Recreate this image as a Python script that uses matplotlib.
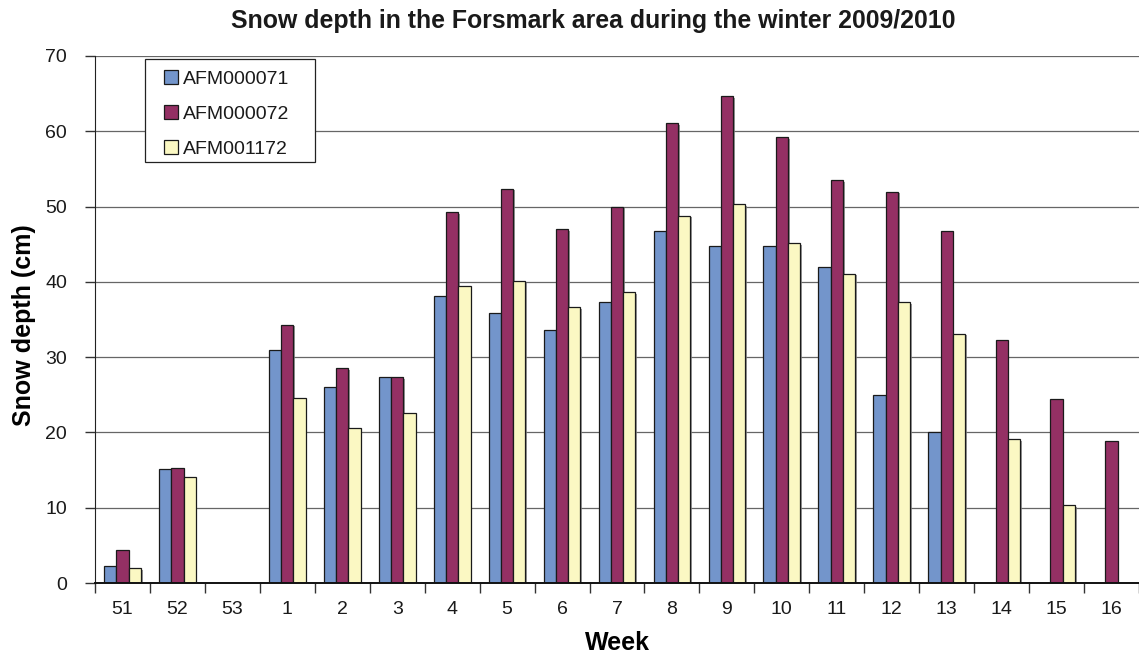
import matplotlib
matplotlib.use("Agg")
import matplotlib.pyplot as plt
import matplotlib.patheffects as pe
from matplotlib.patches import Rectangle
import numpy as np

plt.rcParams['font.family'] = ['Liberation Sans', 'DejaVu Sans']
plt.rcParams['text.color'] = '#1a1a1a'
plt.rcParams['xtick.labelcolor'] = '#1a1a1a'
plt.rcParams['ytick.labelcolor'] = '#1a1a1a'

weeks = ["51", "52", "53", "1", "2", "3", "4", "5", "6", "7", "8", "9",
         "10", "11", "12", "13", "14", "15", "16"]
afm000071 = [2.2, 15.1, 0, 31.0, 26.1, 27.3, 38.1, 35.8, 33.6, 37.3, 46.8, 44.7,
             44.7, 42.0, 25.0, 20.0, 0, 0, 0]
afm000072 = [4.4, 15.3, 0, 34.3, 28.5, 27.3, 49.3, 52.4, 47.0, 50.0, 61.1, 64.7,
             59.2, 53.5, 52.0, 46.8, 32.3, 24.4, 18.8]
afm001172 = [2.0, 14.1, 0, 24.6, 20.6, 22.6, 39.4, 40.1, 36.6, 38.6, 48.8, 50.3,
             45.1, 41.1, 37.3, 33.1, 19.1, 10.3, 0]
series_names = ["AFM000071", "AFM000072", "AFM001172"]
colors = ["#7395CB", "#943064", "#FBF8C3"]

W, H = 1139, 656
X0, Y0, Y1 = 95, 583, 56          # plot area in pixels
AW, AH = W - X0, Y0 - Y1
fig = plt.figure(figsize=(W / 100, H / 100), dpi=100)
ax = fig.add_axes([X0 / W, (H - Y0) / H, AW / W, AH / H])


def to_axes(px, py):
    return (px - X0) / AW, (Y0 - py) / AH


x = np.arange(len(weeks))
bw = 0.223
shadow = [pe.SimplePatchShadow(offset=(1.2, -1.2), shadow_rgbFace='#808080', alpha=0.8),
          pe.Normal()]
for i, (vals, name, col) in enumerate(zip([afm000071, afm000072, afm001172],
                                          series_names, colors)):
    bars = ax.bar(x + (i - 1) * bw, vals, width=bw, color=col, edgecolor='#1a1a1a',
                  linewidth=0.9, label=name, zorder=3)
    for b in bars:
        b.set_path_effects(shadow)

ax.set_ylim(0, 70)
ax.set_yticks(np.arange(0, 71, 10))
ax.set_xlim(-0.5, AW / 55.2 - 0.5)
ax.set_xticks(x)
ax.set_xticklabels(weeks)
ax.set_xticks(np.arange(-0.5, len(weeks) + 0.5, 1), minor=True)
ax.tick_params(axis='x', which='major', length=0, pad=13, labelsize=14)
ax.tick_params(axis='x', which='minor', length=7, width=1, direction='out', color='#333333')
ax.tick_params(axis='y', length=7, width=1, direction='out', labelsize=14, pad=13,
               color='#333333')

ax.yaxis.grid(True, color='#666666', linewidth=0.9, zorder=0)
ax.set_axisbelow(True)
for s in ['top', 'right']:
    ax.spines[s].set_visible(False)
ax.spines['left'].set_color('#222222')
ax.spines['bottom'].set_color('#111111')
ax.spines['bottom'].set_linewidth(1.4)
ax.spines['bottom'].set_zorder(4)

ax.set_xlabel("Week", fontsize=18, fontweight='bold')
ax.xaxis.set_label_coords(*to_axes(617, 643))
ax.xaxis.label.set_va('center')
ax.set_ylabel("Snow depth (cm)", fontsize=18, fontweight='bold')
ax.yaxis.set_label_coords(*to_axes(24, 325))
ax.yaxis.label.set_va('center')
fig.text(593 / W, 1 - 21 / H, "Snow depth in the Forsmark area during the winter 2009/2010",
         ha='center', va='center', fontsize=17.9, fontweight='bold')

# legend frame drawn as its own patch, entries placed inside it
lx0, ly0 = to_axes(145, 162)
lx1, ly1 = to_axes(315, 59)
ax.add_patch(Rectangle((lx0, ly0), lx1 - lx0, ly1 - ly0, transform=ax.transAxes,
                       facecolor='white', edgecolor='#222222', linewidth=0.9, zorder=5))
leg = ax.legend(loc='upper left', bbox_to_anchor=to_axes(164, 70),
                fontsize=14, frameon=False,
                handlelength=0.7, handleheight=0.7, handletextpad=0.3,
                labelspacing=0.9, borderpad=0, borderaxespad=0)
leg.set_zorder(6)
for h in leg.legend_handles:
    h.set_path_effects([])

fig.savefig("out.png", dpi=100, facecolor='white')
